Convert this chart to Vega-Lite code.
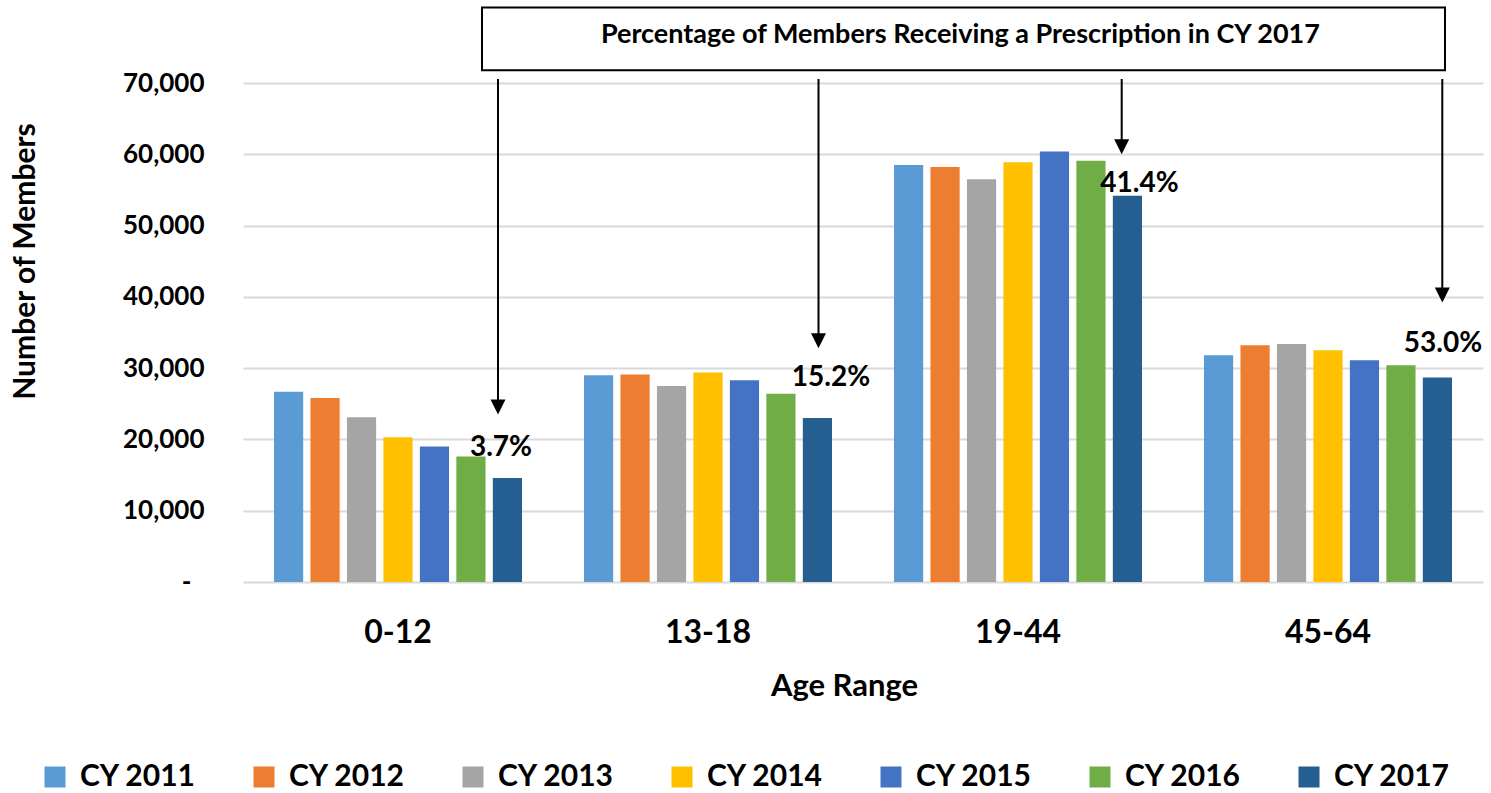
{
  "$schema": "https://vega.github.io/schema/vega-lite/v6.json",
  "width": 1240,
  "height": 499,
  "autosize": {"type": "none"},
  "padding": {"left": 243, "top": 83, "right": 8, "bottom": 211},
  "background": "white",
  "config": {
    "font": "Lato",
    "view": {"stroke": null},
    "axis": {"labelFontWeight": "bold", "titleFontWeight": "bold", "labelColor": "black", "titleColor": "black"}
  },
  "datasets": {
    "bars": [
      {"age": "0-12", "year": "CY 2011", "members": 26700},
      {"age": "0-12", "year": "CY 2012", "members": 25800},
      {"age": "0-12", "year": "CY 2013", "members": 23100},
      {"age": "0-12", "year": "CY 2014", "members": 20300},
      {"age": "0-12", "year": "CY 2015", "members": 19000},
      {"age": "0-12", "year": "CY 2016", "members": 17600},
      {"age": "0-12", "year": "CY 2017", "members": 14600},
      {"age": "13-18", "year": "CY 2011", "members": 29000},
      {"age": "13-18", "year": "CY 2012", "members": 29100},
      {"age": "13-18", "year": "CY 2013", "members": 27500},
      {"age": "13-18", "year": "CY 2014", "members": 29400},
      {"age": "13-18", "year": "CY 2015", "members": 28300},
      {"age": "13-18", "year": "CY 2016", "members": 26400},
      {"age": "13-18", "year": "CY 2017", "members": 23000},
      {"age": "19-44", "year": "CY 2011", "members": 58500},
      {"age": "19-44", "year": "CY 2012", "members": 58200},
      {"age": "19-44", "year": "CY 2013", "members": 56500},
      {"age": "19-44", "year": "CY 2014", "members": 58900},
      {"age": "19-44", "year": "CY 2015", "members": 60400},
      {"age": "19-44", "year": "CY 2016", "members": 59100},
      {"age": "19-44", "year": "CY 2017", "members": 54200},
      {"age": "45-64", "year": "CY 2011", "members": 31800},
      {"age": "45-64", "year": "CY 2012", "members": 33200},
      {"age": "45-64", "year": "CY 2013", "members": 33400},
      {"age": "45-64", "year": "CY 2014", "members": 32500},
      {"age": "45-64", "year": "CY 2015", "members": 31100},
      {"age": "45-64", "year": "CY 2016", "members": 30400},
      {"age": "45-64", "year": "CY 2017", "members": 28700}
    ],
    "arrows": [
      {"ax": 0.8226, "start": 70560, "neck": 24900, "tip": 23500, "lx": 0.8323, "ly": 17700, "label": "3.7%"},
      {"ax": 1.8565, "start": 70560, "neck": 34200, "tip": 32800, "lx": 1.8968, "ly": 27500, "label": "15.2%"},
      {"ax": 2.8345, "start": 70560, "neck": 61400, "tip": 60000, "lx": 2.8919, "ly": 54700, "label": "41.4%"},
      {"ax": 3.8687, "start": 70560, "neck": 40600, "tip": 39200, "lx": 3.871, "ly": 32300, "label": "53.0%"}
    ],
    "box": [
      {"x1": 0.771, "x2": 3.8774, "y1": 80600, "y2": 71800, "tx": 2.3142, "ty": 75600, "title": "Percentage of Members Receiving a Prescription in CY 2017"}
    ]
  },
  "layer": [
    {
      "data": {"name": "bars"},
      "mark": {"type": "bar"},
      "encoding": {
        "x": {
          "field": "age", "type": "nominal", "sort": ["0-12", "13-18", "19-44", "45-64"],
          "scale": {"paddingInner": 0.2, "paddingOuter": 0.1},
          "axis": {
            "title": "Age Range", "labelAngle": 0, "labelFontSize": 32, "labelPadding": 35,
            "ticks": false, "tickSize": 0, "domain": false,
            "titleFontSize": 31, "titleX": 601, "titleY": 89, "titleBaseline": "top", "titleAlign": "center"
          }
        },
        "xOffset": {"field": "year", "type": "nominal", "scale": {"paddingInner": 0.2, "paddingOuter": 0}},
        "y": {
          "field": "members", "type": "quantitative",
          "scale": {"domain": [0, 70000], "nice": false},
          "axis": {
            "title": "Number of Members", "values": [0, 10000, 20000, 30000, 40000, 50000, 60000, 70000],
            "labelExpr": "datum.value == 0 ? '-' : format(datum.value, ',')",
            "labelFontSize": 26,
            "labelPadding": {"condition": {"test": "datum.value == 0", "value": 52}, "value": 39},
            "ticks": false, "tickSize": 0, "domain": false,
            "grid": true, "gridColor": "#D9D9D9", "gridWidth": 2,
            "titleFontSize": 30, "titleAngle": -90, "titleX": -218, "titleY": 178,
            "titleAlign": "center", "titleBaseline": "middle"
          }
        },
        "color": {
          "field": "year", "type": "nominal",
          "scale": {
            "domain": ["CY 2011", "CY 2012", "CY 2013", "CY 2014", "CY 2015", "CY 2016", "CY 2017"],
            "range": ["#5B9BD5", "#ED7D31", "#A5A5A5", "#FFC000", "#4472C4", "#70AD47", "#255E91"]
          },
          "legend": {
            "orient": "none", "legendX": -203, "legendY": 679, "direction": "horizontal", "columns": 7,
            "title": null, "symbolType": "square", "symbolSize": 441, "symbolStrokeWidth": 0,
            "labelFontSize": 30, "labelFontWeight": "bold", "labelColor": "black", "labelOffset": 10,
            "columnPadding": 52, "labelLimit": 400
          }
        }
      }
    },
    {
      "layer": [
        {
          "data": {"name": "arrows"},
          "mark": {"type": "rule", "color": "black", "strokeWidth": 2},
          "encoding": {
            "x": {"field": "ax", "type": "quantitative", "scale": {"domain": [0, 4], "nice": false, "zero": false}, "axis": null},
            "y": {"field": "start", "type": "quantitative", "scale": {"domain": [0, 70000], "nice": false}, "axis": null},
            "y2": {"field": "neck"}
          }
        },
        {
          "data": {"name": "arrows"},
          "mark": {"type": "point", "shape": "M-1,-2L1,-2L0,0Z", "filled": true, "color": "black", "size": 225, "opacity": 1, "strokeWidth": 0},
          "encoding": {
            "x": {"field": "ax", "type": "quantitative", "scale": {"domain": [0, 4], "nice": false, "zero": false}, "axis": null},
            "y": {"field": "tip", "type": "quantitative", "scale": {"domain": [0, 70000], "nice": false}, "axis": null}
          }
        },
        {
          "data": {"name": "arrows"},
          "mark": {"type": "text", "fontSize": 28, "fontWeight": "bold", "align": "center", "baseline": "alphabetic", "color": "black"},
          "encoding": {
            "x": {"field": "lx", "type": "quantitative", "scale": {"domain": [0, 4], "nice": false, "zero": false}, "axis": null},
            "y": {"field": "ly", "type": "quantitative", "scale": {"domain": [0, 70000], "nice": false}, "axis": null},
            "text": {"field": "label"}
          }
        },
        {
          "data": {"name": "box"},
          "mark": {"type": "rect", "fill": "white", "stroke": "black", "strokeWidth": 2},
          "encoding": {
            "x": {"field": "x1", "type": "quantitative", "scale": {"domain": [0, 4], "nice": false, "zero": false}, "axis": null},
            "x2": {"field": "x2"},
            "y": {"field": "y1", "type": "quantitative", "scale": {"domain": [0, 70000], "nice": false}, "axis": null},
            "y2": {"field": "y2"}
          }
        },
        {
          "data": {"name": "box"},
          "mark": {"type": "text", "fontSize": 27, "fontWeight": "bold", "align": "center", "baseline": "alphabetic", "color": "black"},
          "encoding": {
            "x": {"field": "tx", "type": "quantitative", "scale": {"domain": [0, 4], "nice": false, "zero": false}, "axis": null},
            "y": {"field": "ty", "type": "quantitative", "scale": {"domain": [0, 70000], "nice": false}, "axis": null},
            "text": {"field": "title"}
          }
        }
      ]
    }
  ],
  "resolve": {"scale": {"x": "independent", "y": "independent"}}
}
